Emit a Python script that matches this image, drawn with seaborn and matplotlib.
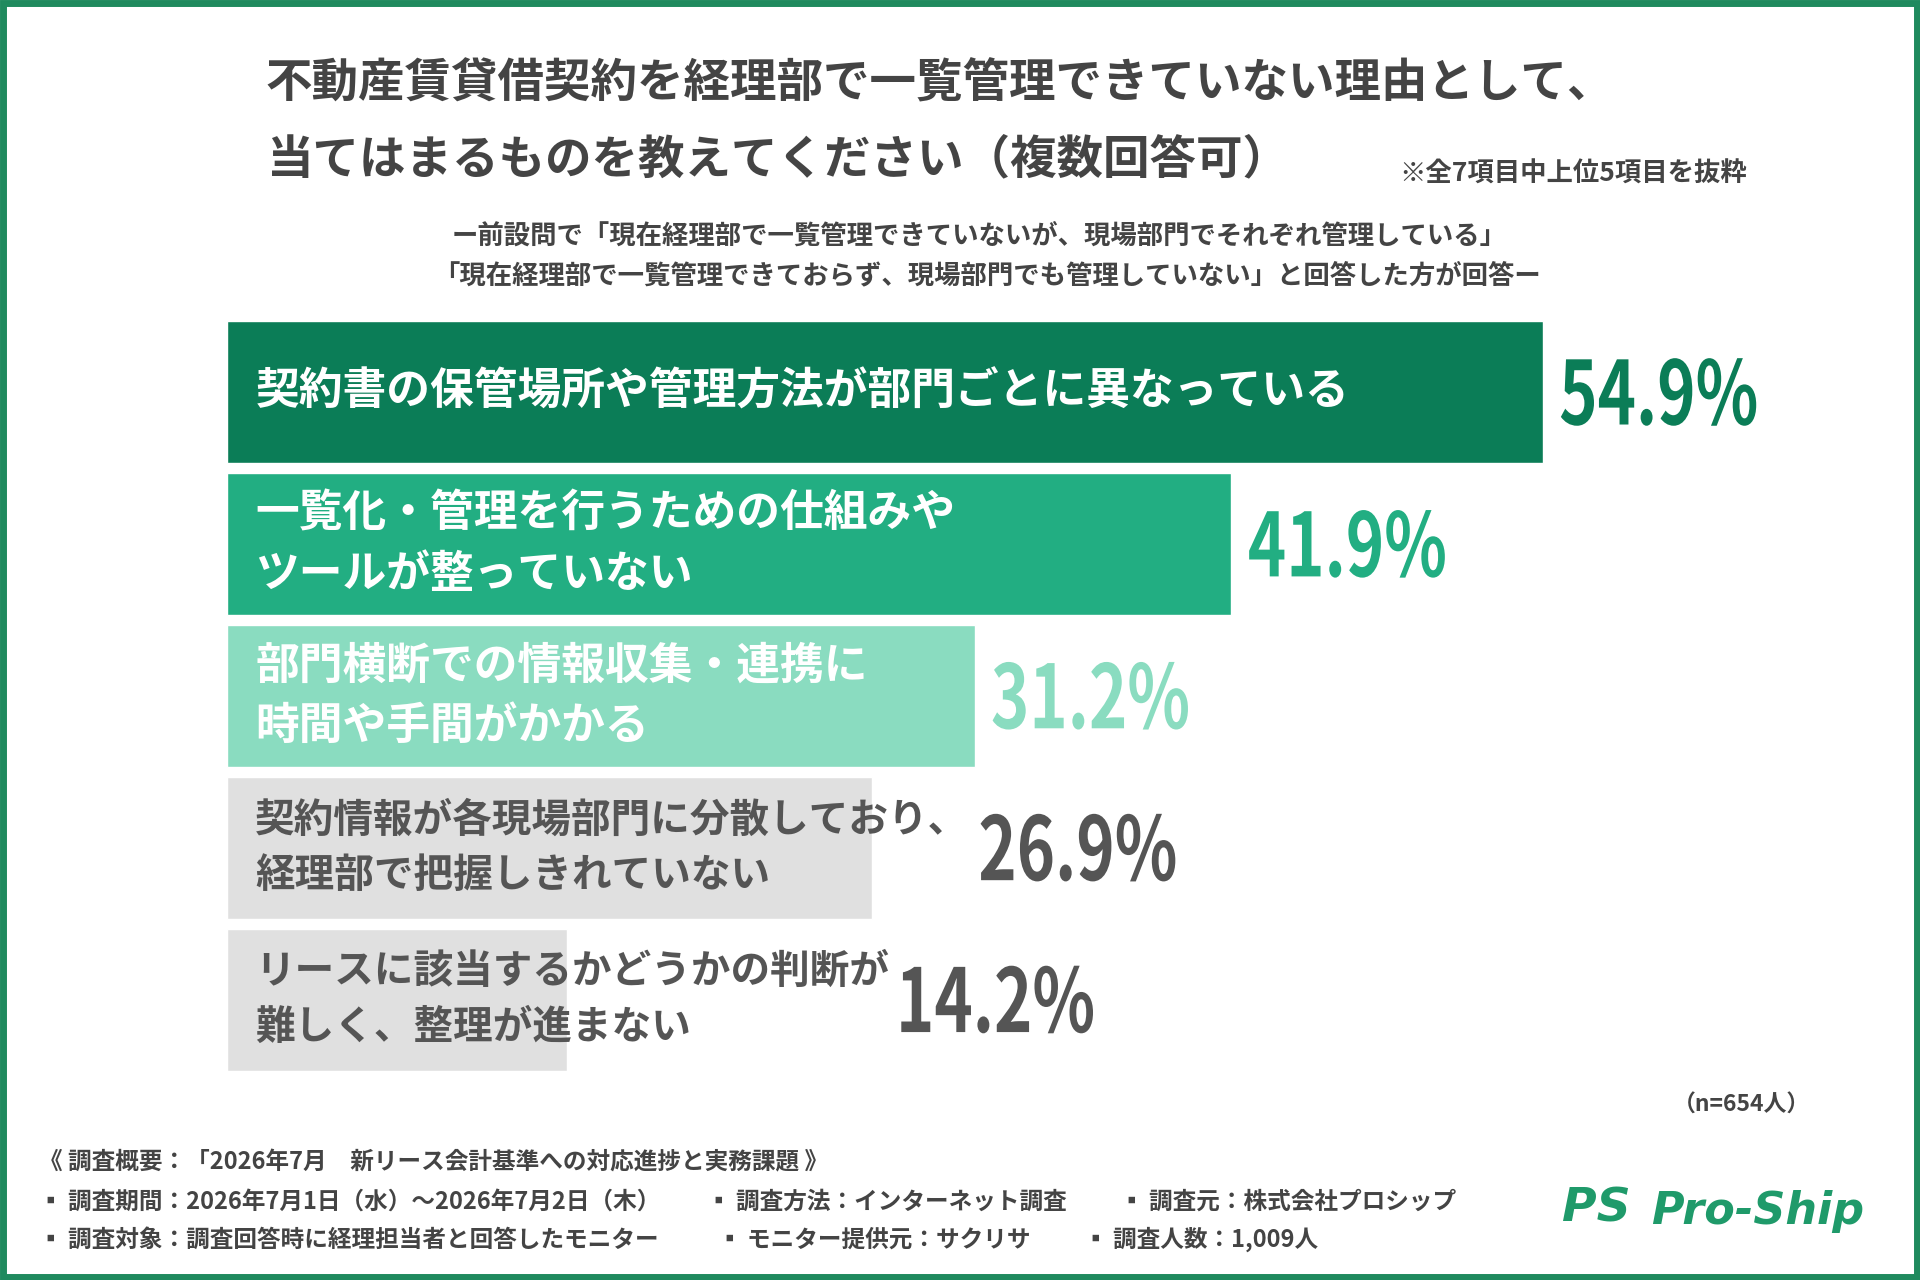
import matplotlib
matplotlib.use("Agg")
import matplotlib.pyplot as plt
import seaborn as sns
import pandas as pd
from matplotlib.patches import Rectangle, PathPatch
from matplotlib.textpath import TextPath
from matplotlib.font_manager import FontProperties
from matplotlib.transforms import Affine2D

categories = ["契約書の保管場所や管理方法が部門ごとに異なっている",
              "一覧化・管理を行うための仕組みや\nツールが整っていない",
              "部門横断での情報収集・連携に\n時間や手間がかかる",
              "契約情報が各現場部門に分散しており、\n経理部で把握しきれていない",
              "リースに該当するかどうかの判断が\n難しく、整理が進まない"]
values = [54.9, 41.9, 31.2, 26.9, 14.2]
labels = ["54.9%", "41.9%", "31.2%", "26.9%", "14.2%"]

bar_colors = ["#0b7d57", "#22ae82", "#8adcc0", "#e0e0e0", "#e0e0e0"]
text_colors = ["white", "white", "white", "#555555", "#555555"]
pct_colors = ["#0b7d57", "#22ae82", "#8adcc0", "#555555", "#555555"]
label_sizes = [31.5, 31.5, 31.5, 28.5, 28.5]

sns.set_theme(style="white")
plt.rcParams['font.family'] = ['Noto Sans CJK JP', 'DejaVu Sans']

W, H = 1568, 1045
fig = plt.figure(figsize=(19.2, 12.8), dpi=100)
fig.patch.set_facecolor("white")
fig.patches.append(Rectangle((0.0015, 0.0025), 0.997, 0.995, transform=fig.transFigure,
                             fill=False, edgecolor="#1f8a5e", linewidth=5))

ax = fig.add_axes([185 / W, 1 - 874 / H, 1 - 185 / W, 612 / H])
df = pd.DataFrame({"cat": categories, "val": values})
sns.barplot(data=df, y="cat", x="val", hue="cat", palette=bar_colors, legend=False,
            orient="h", width=0.935, saturation=1, ax=ax)
ax.set_xlim(0, (W - 185) / (1075 / 54.9))
ax.set_ylim(4.4677, -0.4677)
ax.axis("off")

fig.canvas.draw()
renderer = fig.canvas.get_renderer()
prop = FontProperties(family="Noto Sans CJK JP", weight="bold")
for i, (c, v, l) in enumerate(zip(categories, values, labels)):
    t = ax.text(1.2, i, c, va="center", ha="left", fontsize=label_sizes[i], fontweight="bold",
                color=text_colors[i], linespacing=1.45)
    x_px, y_px = ax.transData.transform((v, i))
    x_px += 18
    if i >= 3:
        bb = t.get_window_extent(renderer)
        x_px = max(x_px, bb.x1 + 12)
    tp = TextPath((0, 0), l, size=88, prop=prop)
    ext = tp.get_extents()
    tr = Affine2D().translate(-ext.x0, -(ext.y0 + ext.y1) / 2).scale(0.74, 1.0).translate(x_px, y_px)
    fig.add_artist(PathPatch(tp, transform=tr, facecolor=pct_colors[i], edgecolor="none"))

tc = "#444444"
fig.text(217 / W, 1 - 68 / H, "不動産賃貸借契約を経理部で一覧管理できていない理由として、",
         fontsize=33.5, fontweight="bold", color=tc, va="center")
fig.text(217 / W, 1 - 130 / H, "当てはまるものを教えてください（複数回答可）",
         fontsize=33.5, fontweight="bold", color=tc, va="center")
fig.text(1427 / W, 1 - 142 / H, "※全7項目中上位5項目を抜粋", fontsize=19, fontweight="bold",
         color=tc, va="center", ha="right")
fig.text(800 / W, 1 - 193 / H, "ー前設問で「現在経理部で一覧管理できていないが、現場部門でそれぞれ管理している」",
         fontsize=19, fontweight="bold", color=tc, va="center", ha="center")
fig.text(806 / W, 1 - 225 / H, "「現在経理部で一覧管理できておらず、現場部門でも管理していない」と回答した方が回答ー",
         fontsize=19, fontweight="bold", color=tc, va="center", ha="center")
fig.text(1478 / W, 1 - 902 / H, "（n=654人）", fontsize=16.5, fontweight="bold",
         color=tc, va="center", ha="right")

foot = dict(fontsize=17, fontweight="bold", color=tc, va="center")
fig.text(32 / W, 1 - 949 / H, "《 調査概要：「2026年7月　新リース会計基準への対応進捗と実務課題 》", **foot)
fig.text(32 / W, 1 - 981 / H, "▪ 調査期間：2026年7月1日（水）〜2026年7月2日（木）", **foot)
fig.text(577 / W, 1 - 981 / H, "▪ 調査方法：インターネット調査", **foot)
fig.text(915 / W, 1 - 981 / H, "▪ 調査元：株式会社プロシップ", **foot)
fig.text(32 / W, 1 - 1012 / H, "▪ 調査対象：調査回答時に経理担当者と回答したモニター", **foot)
fig.text(586 / W, 1 - 1012 / H, "▪ モニター提供元：サクリサ", **foot)
fig.text(885 / W, 1 - 1012 / H, "▪ 調査人数：1,009人", **foot)

fig.text(1276 / W, 1 - 987 / H, "PS", fontsize=34, fontweight="bold", fontstyle="italic",
         color="#1f9a6a", va="center", family="DejaVu Sans")
fig.text(1348 / W, 1 - 989 / H, "Pro-Ship", fontsize=32, fontweight="bold", fontstyle="italic",
         color="#1f9a6a", va="center", family="DejaVu Sans")

fig.savefig("out.png", dpi=100)
